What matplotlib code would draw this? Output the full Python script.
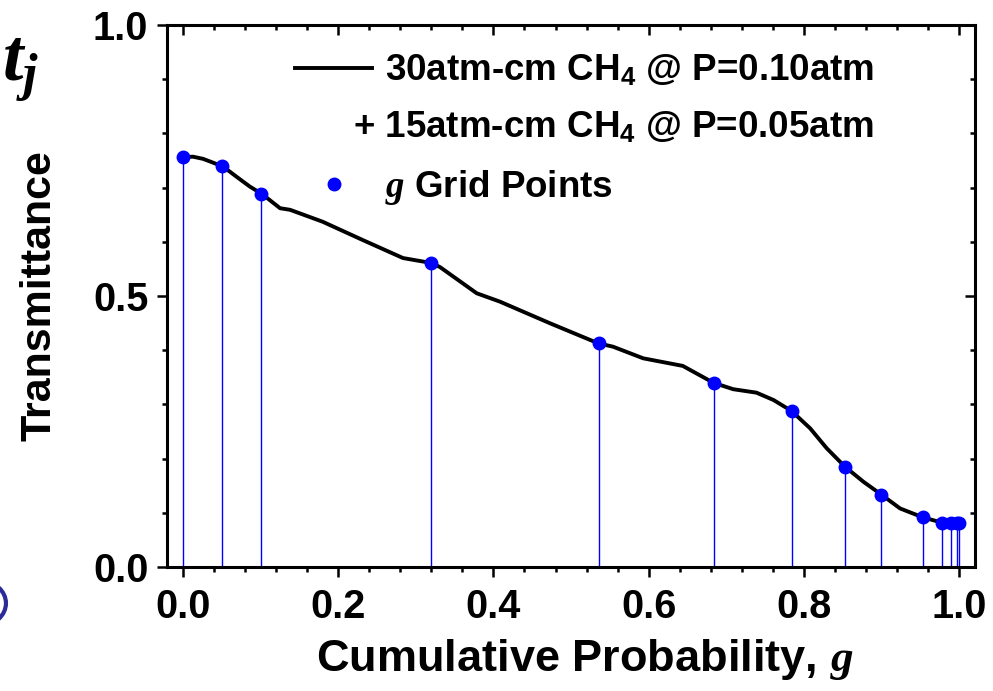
import matplotlib
matplotlib.use("Agg")
import matplotlib.pyplot as plt
from matplotlib.lines import Line2D
from matplotlib.patches import Ellipse
import numpy as np

plt.rcParams['font.family'] = ['Liberation Sans', 'DejaVu Sans']
plt.rcParams['font.weight'] = 'bold'
plt.rcParams['mathtext.fontset'] = 'custom'
plt.rcParams['mathtext.rm'] = 'Liberation Sans:bold'
plt.rcParams['mathtext.it'] = 'Liberation Serif:italic:bold'
plt.rcParams['mathtext.bf'] = 'Liberation Sans:bold'

# Transmittance curve (cumulative probability g, transmittance)
curve_g = [0.0, 0.013, 0.026, 0.0515, 0.069, 0.086, 0.102, 0.125, 0.138, 0.18, 0.232,
           0.2835, 0.3196, 0.331, 0.3785, 0.4085, 0.473, 0.535, 0.554, 0.593, 0.644,
           0.6834, 0.709, 0.739, 0.761, 0.784, 0.808, 0.8295, 0.853, 0.877, 0.9004,
           0.924, 0.953, 0.978, 0.99, 1.0]
curve_t = [0.7565, 0.757, 0.753, 0.739, 0.720, 0.702, 0.688, 0.662, 0.659, 0.637, 0.603,
           0.570, 0.561, 0.5535, 0.505, 0.4895, 0.4496, 0.4127, 0.4065, 0.385, 0.371,
           0.340, 0.328, 0.3216, 0.308, 0.288, 0.256, 0.219, 0.185, 0.157, 0.133,
           0.108, 0.0917, 0.0818, 0.0806, 0.0803]

# g grid points
grid_g = [0.0, 0.05, 0.1, 0.3196, 0.536, 0.684, 0.785, 0.853, 0.9, 0.953, 0.978,
          0.99, 0.997, 1.0]
grid_t = [0.7565, 0.740, 0.688, 0.561, 0.4127, 0.340, 0.288, 0.185, 0.133, 0.0917,
          0.0818, 0.0806, 0.0804, 0.0803]

xticks = [0.0, 0.2, 0.4, 0.6, 0.8, 1.0]
yticks = [0.0, 0.5, 1.0]

fig = plt.figure(figsize=(9.93, 6.91), dpi=100)
ax = fig.add_axes([0.1682, 0.1795, 0.8137, 0.7843])

ax.vlines(grid_g, 0, grid_t, color='#0000ff', lw=1.0, zorder=2)
ln, = ax.plot(curve_g, curve_t, color='black', lw=2.8, zorder=3)
pts, = ax.plot(grid_g, grid_t, 'o', color='#0000ff', ms=9, zorder=4, ls='none')

ax.set_xlim(-0.0206, 1.0206)
ax.set_ylim(0, 1)
ax.set_xticks(xticks)
ax.set_xticklabels([f"{v:.1f}" for v in xticks])
ax.set_yticks(yticks)
ax.set_yticklabels([f"{v:.1f}" for v in yticks])
ax.set_xticks(np.arange(0, 1.0001, 0.04), minor=True)
ax.set_yticks(np.arange(0, 1.0001, 0.1), minor=True)

for s in ax.spines.values():
    s.set_linewidth(2.2)
ax.tick_params(which='major', direction='out', length=7.5, width=1.8, labelsize=28.5)
ax.tick_params(axis='x', which='major', pad=8)
ax.tick_params(axis='y', which='major', pad=6)
ax.tick_params(which='minor', direction='out', length=3.8, width=1.8)
ax.tick_params(which='both', top=True, right=True)
# top/right ticks inward
for t in ax.xaxis.get_major_ticks() + ax.xaxis.get_minor_ticks():
    t.tick2line.set_marker(matplotlib.markers.TICKDOWN)
for t in ax.yaxis.get_major_ticks() + ax.yaxis.get_minor_ticks():
    t.tick2line.set_marker(matplotlib.markers.TICKLEFT)
for lab in ax.get_xticklabels() + ax.get_yticklabels():
    lab.set_fontweight('bold')

ax.set_xlabel(r"Cumulative Probability, $g$", fontsize=32.5, fontweight='bold', labelpad=9)
ax.xaxis.set_label_coords(0.517, -0.13)
ax.set_ylabel("Transmittance", fontsize=31, fontweight='bold', labelpad=24)

# t_j label
fig.text(0.002, 0.885, r"$t_j$", fontsize=53, ha='left', va='baseline')

blank = Line2D([], [], color='none')
leg = ax.legend([ln, blank, pts],
                [r"30atm-cm CH$_4$ @ P=0.10atm", " ", r"$g$ Grid Points"],
                loc='upper left', bbox_to_anchor=(0.14, 0.975), frameon=False,
                fontsize=26.5, handlelength=2.1, handletextpad=0.35, labelspacing=0.6,
                borderaxespad=0)
for t in leg.get_texts():
    t.set_fontweight('bold')

fig.canvas.draw()
bb0 = leg.get_texts()[0].get_window_extent()
bb1 = leg.get_texts()[1].get_window_extent()
inv = fig.transFigure.inverted()
x1, _ = inv.transform((bb0.x1, 0))
_, ymid = inv.transform((0, (bb1.y0 + bb1.y1) / 2))
fig.text(x1, ymid, r"+ 15atm-cm CH$_4$ @ P=0.05atm", fontsize=26.5, fontweight='bold',
         ha='right', va='center')

# partial circle artifact at left edge
fig.patches.append(Ellipse((-0.019, 0.127), 0.05, 0.064, transform=fig.transFigure,
                           fill=False, edgecolor='#2b2b9a', lw=3))

fig.savefig("out.png", dpi=100)
